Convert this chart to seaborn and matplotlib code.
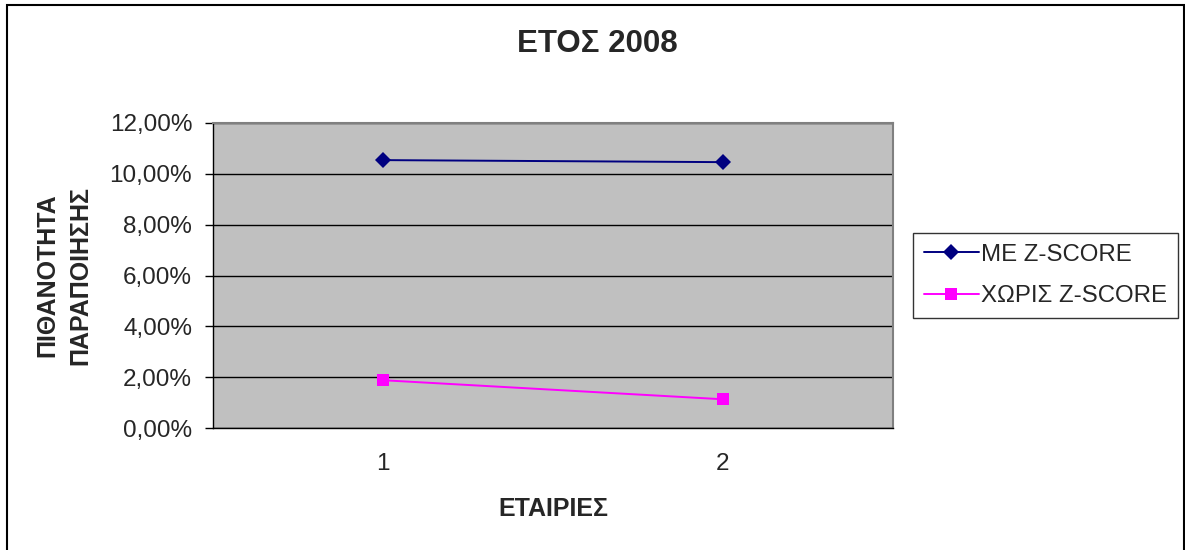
import pandas as pd
import matplotlib
matplotlib.use("Agg")
import matplotlib.pyplot as plt
from matplotlib.patches import Rectangle
from matplotlib.ticker import FuncFormatter, FixedLocator
import seaborn as sns

# ========= DATA =========
companies = [1, 2]
series_names = ["ΜΕ Z-SCORE", "ΧΩΡΙΣ Z-SCORE"]
with_zscore = [10.54, 10.46]      # %
without_zscore = [1.88, 1.13]     # %
colors = {"ΜΕ Z-SCORE": "#000080", "ΧΩΡΙΣ Z-SCORE": "#FF00FF"}
markers = {"ΜΕ Z-SCORE": "D", "ΧΩΡΙΣ Z-SCORE": "s"}

df = pd.DataFrame({
    "company": companies * 2,
    "value": with_zscore + without_zscore,
    "series": [series_names[0]] * 2 + [series_names[1]] * 2,
})

# ========= STYLE =========
sns.set_style("white")
plt.rcParams["font.family"] = ["Liberation Sans", "DejaVu Sans"]

fig = plt.figure(figsize=(11.85, 5.5), dpi=100)
ax = fig.add_axes([213 / 1185, 1 - 428 / 550, 680 / 1185, 305 / 550])
ax.set_facecolor("#C0C0C0")

sns.lineplot(
    data=df, x="company", y="value", hue="series", style="series",
    palette=colors, markers=markers, dashes=False, linewidth=1.4,
    markersize=8.5, markeredgewidth=0, ax=ax,
)

# ========= AXES =========
ax.set_xlim(0.5, 2.5)
ax.set_ylim(0, 12)
ax.set_yticks([0, 2, 4, 6, 8, 10, 12])
ax.yaxis.set_major_formatter(FuncFormatter(lambda v, p: f"{v:.2f}%".replace(".", ",")))
ax.set_xticks(companies)
ax.set_xticklabels([str(c) for c in companies])
ax.xaxis.set_minor_locator(FixedLocator([0.5, 1.5, 2.5]))
ax.tick_params(axis="x", which="major", length=0, pad=18, labelsize=17.5)
ax.tick_params(axis="x", which="minor", length=6, width=1, color="black", direction="out")
ax.tick_params(axis="y", which="major", length=6, width=1, color="black",
               direction="out", pad=9, labelsize=17.5, left=True)
ax.grid(axis="y", color="black", linewidth=1)
ax.set_axisbelow(True)

for side in ["left", "bottom"]:
    ax.spines[side].set_color("black")
    ax.spines[side].set_linewidth(1)
for side in ["top", "right"]:
    ax.spines[side].set_color("#808080")
    ax.spines[side].set_linewidth(1.5)

ax.set_xlabel("ΕΤΑΙΡΙΕΣ", fontsize=18, fontweight="bold")
ax.xaxis.set_label_coords(0.5, -0.225)
ax.xaxis.label.set_va("top")
ax.set_ylabel("ΠΙΘΑΝΟΤΗΤΑ\nΠΑΡΑΠΟΙΗΣΗΣ", fontsize=18, fontweight="bold", linespacing=1.45)
ax.yaxis.set_label_coords(-0.178, 0.5)

fig.text(597 / 1185, 1 - 44 / 550, "ΕΤΟΣ 2008", fontsize=22.5, fontweight="bold",
         ha="center", va="center")

# ========= LEGEND =========
handles, labels = ax.get_legend_handles_labels()
leg = ax.legend(
    handles, labels, loc="upper left", bbox_to_anchor=(913 / 1185, 1 - 233 / 550),
    bbox_transform=fig.transFigure, fontsize=17.3, frameon=True, fancybox=False,
    edgecolor="black", handlelength=2.3, handletextpad=0.1, borderpad=0.45,
    labelspacing=0.8, borderaxespad=0,
)
leg.get_frame().set_linewidth(1)

# outer chart border
fig.patches.append(Rectangle((7 / 1185, -2 / 550), 1177 / 1185, 547 / 550,
                             transform=fig.transFigure, fill=False,
                             edgecolor="black", linewidth=1.5))

plt.savefig("out.png", dpi=100)
